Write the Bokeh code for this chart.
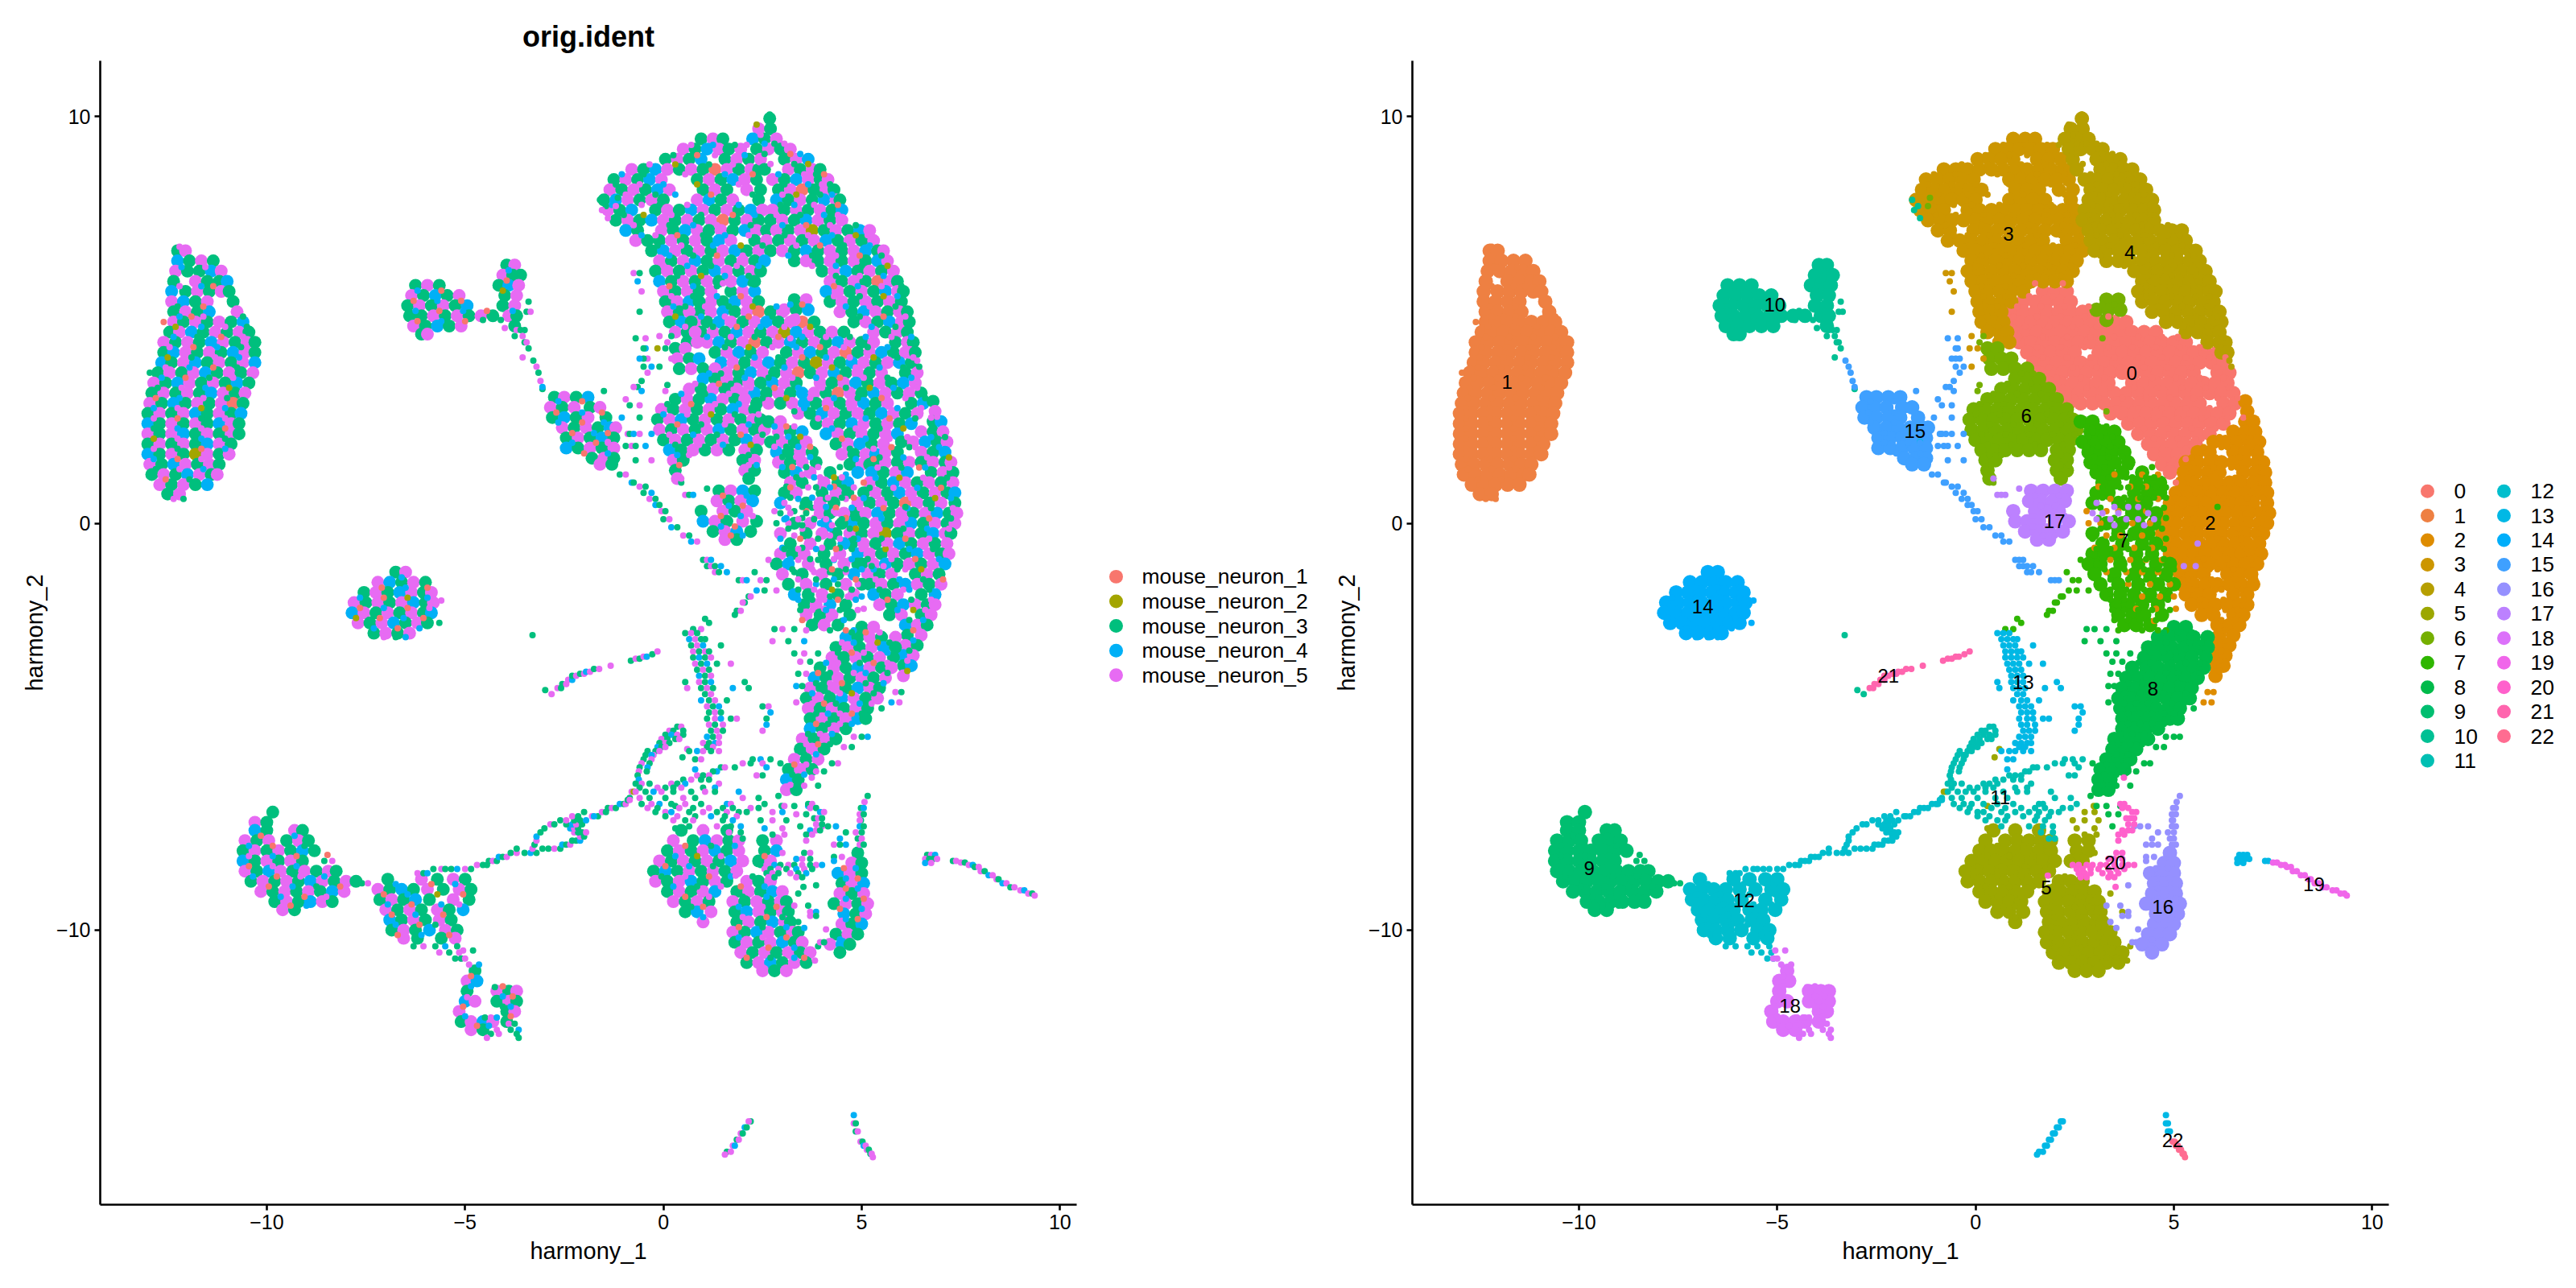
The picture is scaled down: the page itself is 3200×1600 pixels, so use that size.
from bokeh.plotting import figure
from bokeh.models import ColumnDataSource, Range1d, FixedTicker
from bokeh.layouts import row
from bokeh.embed import file_html
from bokeh.resources import INLINE
from bokeh.core.properties import value

# Hand-read sample of the embedding: {y: "x+sample x+sample ..."}; a..e = mouse_neuron_1..5
cluster_0_core = {
5.7:"1.7c 2.0e 2.3d", 5.45:"1.2e 1.5c 1.8d 2.1e 2.4c",
5.2:"0.9c 1.2e 1.5d 1.8c 2.1e 2.4a 2.7c 3.0e",
4.95:"0.8e 1.1c 1.4d 1.7e 2.0c 2.3e 2.6d 2.9c 3.2e 3.5a 3.8c",
4.7:"0.95c 1.25e 1.55c 1.85d 2.15e 2.45c 2.75e 3.05b 3.35d 3.65e 3.95c 4.25e 4.55c",
4.45:"1.1e 1.4d 1.7c 2.0e 2.3a 2.6c 2.9e 3.2d 3.5c 3.8e 4.1c 4.4d 4.7e 5.0c 5.3e",
4.2:"1.3c 1.6e 1.9d 2.2c 2.5e 3.1c 3.4e 3.7d 4.0c 4.3e 4.6a 4.9c 5.2e 5.5d 5.8c 6.1e",
3.95:"1.45d 1.75e 2.05c 2.35e 2.65d 2.95c 3.25e 3.55c 3.85b 4.15e 4.45c 4.75d 5.05e 5.35c 5.65e 5.95d 6.25c",
3.7:"1.6e 1.9c 2.2d 2.5e 2.8c 3.1e 3.4a 3.7c 4.0e 4.3d 4.6c 4.9e 5.2c 5.5e 6.1c 6.4e",
3.45:"1.85c 2.15e 2.45c 2.75d 3.05e 3.35c 3.95e 4.25c 4.55e 4.85d 5.15c 5.45e 5.75c 6.05d 6.35e",
3.2:"2.0e 2.3d 2.6c 2.9e 3.2c 3.5d 3.8e 4.1c 4.4a 4.7e 5.0c 5.3d 5.6e 5.9c 6.2e 6.5c",
2.95:"2.35c 2.65e 2.95c 3.25e 3.55d 3.85c 4.15e 4.45c 4.75e 5.05d 5.35c 5.65e 6.25c 6.55d",
2.7:"3.4e 3.7c 4.0d 4.3e 4.6c 4.9e 5.2c 5.5d 5.8e 6.1c 6.4e",
2.45:"3.85c 4.15e 4.45c 4.75d 5.05e 5.35c 5.65e 5.95c 6.25d",
2.2:"4.1d 4.4e 4.7c 5.0e 5.3c 5.6e 5.9d",
1.95:"4.35c 4.65e 4.95d 5.25c 5.55e",
1.7:"4.5e 4.8c 5.1e 5.35d", 1.45:"4.7c 5.0e 5.2c", 1.25:"4.9d",
}
cluster_0_fine = {5.9:"1.5e 2.2c", 1.0:"5.05a", 2.6:"6.75e",
5.58:"1.35d 1.95a", 5.33:"1.05e 1.65c 2.25b 2.85d", 5.08:"0.95d 1.55e 2.15a 2.75c 3.35e", 4.83:"1.25c 1.85a 2.45d 3.05e 3.7b",
4.58:"1.1d 1.7e 2.3c 2.9a 3.5d 4.1e 4.7c 5.1d", 4.33:"1.55c 2.15b 2.75e 3.35d 3.95a 4.55e 5.15c 5.65d",
4.08:"1.7e 2.3d 2.9c 3.5a 4.1d 4.7e 5.3b 5.9c 6.3e", 3.83:"1.85a 2.45e 3.05d 3.65c 4.25b 4.85e 5.45d 6.05c",
3.58:"2.05d 2.65c 3.25e 3.85d 4.45a 5.05e 5.65c 6.25d", 3.33:"2.2e 2.8a 3.4d 4.0e 4.6c 5.2b 5.8d 6.4e",
3.08:"2.5c 3.1b 3.7e 4.3d 4.9c 5.5a 6.1e 6.6c", 2.83:"3.55d 4.1a 4.7e 5.3c 5.9d 6.5e", 2.58:"3.9e 4.5c 5.1d 5.7a 6.35c",
2.33:"4.25d 4.85e 5.45c 6.05b", 2.08:"4.5a 5.1d 5.7e", 1.83:"4.7c 5.3e", 1.58:"4.85d 5.3a",
}
cluster_1_core = {
6.7:"-12.25c -12.05e", 6.45:"-12.25d -11.95c -11.65e -11.35c",
6.2:"-12.3e -12.0c -11.7c -11.4d -11.15e",
5.95:"-12.35c -11.8e -11.5c -11.2c -11.0d",
5.7:"-12.4d -12.05c -11.75e -11.45c -11.15e -10.95c",
5.45:"-12.4e -12.1d -11.8c -11.5e -10.85c",
5.2:"-12.35c -12.05e -11.75c -11.45d -10.75e",
4.95:"-12.35e -12.1c -11.8e -11.5c -11.2e -10.9c -10.6d",
4.7:"-12.45c -12.2e -11.9d -11.6c -11.3e -11.0c -10.7e -10.45c",
4.45:"-12.6e -12.3c -12.0e -11.7c -11.4d -11.1e -10.8c -10.5e -10.3c",
4.2:"-12.6c -12.35d -12.05e -11.75c -11.45e -11.15c -10.85d -10.55e -10.3c",
3.95:"-12.65d -12.4c -12.1e -11.8d -11.5c -11.2e -10.9c -10.6e -10.3d",
3.7:"-12.75c -12.45e -12.15c -11.85e -11.55d -11.25c -10.95e -10.65c -10.35e",
3.45:"-12.85e -12.55c -12.25d -11.95e -11.65c -11.35e -11.05c -10.75d -10.45c",
3.2:"-12.9c -12.6e -12.3c -12.0e -11.7c -11.4d -11.1e -10.8c -10.55e",
2.95:"-12.95e -12.65c -12.35d -12.05c -11.75e -11.45c -11.15e -10.85a -10.6c",
2.7:"-13.0c -12.7e -12.4c -12.1e -11.8d -11.5c -11.2e -10.9c -10.65d",
2.45:"-13.0d -12.7c -12.4e -12.1c -11.8e -11.5c -11.2d -10.9e -10.7c",
2.2:"-13.0e -12.7c -12.4e -12.1d -11.8c -11.5e -11.2c -10.9e -10.7c",
1.95:"-13.0c -12.7e -12.4c -12.1e -11.8c -11.5d -11.2e -10.9c",
1.7:"-13.0d -12.7c -12.4e -12.1c -11.8b -11.5e -11.2c -10.95e",
1.45:"-12.95e -12.65c -12.35d -12.05e -11.75c -11.45e -11.2c",
1.2:"-12.9c -12.6e -12.3c -12.0d -11.7e -11.4c -11.25e",
0.95:"-12.7e -12.4c -12.1e -11.8c -11.5d",
0.72:"-12.5c -12.2e",
}
cluster_1_fine = {4.95:"-12.6a", 3.7:"-12.95c", 6.8:"-12.2e", 0.6:"-12.35e -12.1c",
6.3:"-12.15d -11.55e", 5.83:"-12.2e -11.65d -11.35a", 5.33:"-12.25c -11.6a", 5.08:"-12.2d -11.9a -11.6e -10.6c",
4.83:"-12.3b -11.65d -11.05e -10.5c", 4.58:"-12.35d -11.75c -11.15a -10.6e", 4.33:"-12.45e -11.85a -11.25d -10.65c",
4.08:"-12.5b -11.9c -11.3e -10.7d", 3.83:"-12.55e -11.95d -11.35a -10.75c", 3.58:"-12.65d -12.05a -11.45c -10.85e",
3.33:"-12.75c -12.15e -11.55d -10.95b", 3.08:"-12.8a -12.2d -11.6e -11.0c", 2.83:"-12.85d -12.25e -11.65b -11.05d",
2.58:"-12.85e -12.25a -11.65c -11.05e", 2.33:"-12.85c -12.25d -11.65e -11.05a", 2.08:"-12.85b -12.25e -11.65d -11.05c",
1.83:"-12.85e -12.25c -11.65a -11.05d", 1.58:"-12.85d -12.25a -11.65e", 1.33:"-12.8c -12.2e -11.6d", 1.08:"-12.55a -11.95c",
}
cluster_2_core = {
3.0:"6.8c", 2.75:"6.85e", 2.5:"6.8c 7.0d", 2.25:"6.5e 6.8c 7.05e",
2.0:"6.0c 6.3e 6.6d 6.9c 7.15e",
1.75:"5.6e 5.9c 6.5e 6.8c 7.1d",
1.5:"5.3c 5.6e 5.9c 6.2e 6.5c 6.8e 7.1c 7.25e",
1.25:"5.25d 5.55c 5.85e 6.15d 6.75c 7.05e 7.3c",
1.0:"5.2e 5.5c 5.8d 6.1e 6.4c 6.7e 7.0c 7.3e",
0.75:"5.05c 5.35e 5.65c 5.95d 6.25e 6.55c 6.85e 7.15c 7.35d",
0.5:"4.9e 5.2c 5.5e 5.8c 6.1a 6.4e 6.7c 7.0e 7.35c",
0.25:"4.8c 5.1e 5.4d 5.7c 6.0e 6.3c 6.6e 6.9d 7.2c 7.4e",
0.0:"4.75d 5.05c 5.35e 5.65c 5.95e 6.25d 6.55c 6.85e 7.15c 7.35e",
-0.25:"4.7e 5.0c 5.3e 5.6b 5.9c 6.2e 6.5c 6.8d 7.1e 7.25c",
-0.5:"4.75c 5.05e 5.35c 5.65e 5.95d 6.25c 6.55e 6.85c 7.15e",
-0.75:"4.9d 5.2e 5.5c 5.8e 6.1c 6.4d 6.7e 7.0c 7.2e",
-1.0:"5.0c 5.3e 5.6d 5.9c 6.2e 6.5c 6.8e 7.1d",
-1.25:"5.15e 5.45c 5.75e 6.35c 6.65e 6.95c",
-1.5:"5.2c 5.5e 5.8c 6.1d 6.4e 6.7c 7.0e",
-1.75:"5.3d 5.6c 5.9e 6.5c 6.85d",
-2.0:"5.45e 5.75c 6.05d 6.35e 6.65c 6.85e",
-2.25:"5.7c 6.0e 6.5c 6.75e", -2.5:"6.1d 6.4e 6.65c", -2.75:"6.15c 6.5e",
-3.0:"6.1e 6.4c", -3.25:"6.05d 6.3e", -3.5:"6.05c 6.25d", -3.75:"6.05e",
}
cluster_2_fine = {
1.2:"3.5e 4.2c 4.6d", 0.9:"3.1c 3.9e 4.3a", 0.6:"3.4d 4.1c 4.6e", 0.3:"2.8e 3.3c 3.6a 4.3e",
0.0:"2.85c 3.15e 3.95d 4.4c", -0.3:"3.3e 3.65c 4.2e", -0.6:"3.0d 3.5c 4.0e 4.45c",
-0.9:"3.4e 3.9c 4.3d 4.7e", -1.2:"3.3c 3.8e 4.2c 4.6e", -1.5:"3.85d 4.4c 4.9e",
-1.8:"4.2c 4.65e 5.0d", -2.1:"4.05e 4.55c 5.05e", -2.4:"4.5c", -4.15:"5.85e 6.0c", -4.4:"5.75d 5.95e",
2.62:"6.9e", 2.12:"6.15e 6.75d 7.1c", 1.87:"5.75a 6.2c 6.35e 6.95d", 1.62:"5.45c 6.05d 6.65e 7.2b", 1.37:"5.4e 6.0c 6.45a 6.6d 7.2e",
1.12:"5.35d 5.95b 6.55e 7.15c", 0.87:"5.2c 5.8e 6.4d 7.0a", 0.62:"5.05d 5.65c 6.25e 6.85b 7.25d", 0.37:"4.95e 5.55a 6.15d 6.75c 7.3e",
0.12:"4.9c 5.5d 6.1e 6.7a 7.25c", -0.13:"4.85b 5.45e 6.05c 6.65d 7.2e", -0.38:"4.9d 5.5c 6.1a 6.7e", -0.63:"5.0e 5.6b 6.2d 6.8c",
-0.88:"5.15c 5.75e 6.35a 6.95d", -1.13:"5.3d 5.9c 6.1e 6.5b", -1.38:"5.35e 5.95d 6.55c 7.05a", -1.63:"5.45c 6.05e 6.2d 6.7c",
-1.88:"5.65a 6.25c 6.75e", -2.13:"5.9d 6.3b 6.6e", -2.38:"6.2c 6.55d", -2.63:"6.3a", -2.88:"6.3d", -3.13:"6.2c", -3.38:"6.15e", -3.63:"6.15b",
}
cluster_3_core = {
9.45:"0.95c 1.25e 1.5c", 9.2:"0.5e 0.8c 1.1d 1.4e 1.65c 1.95e",
8.95:"0.05c 0.35e 0.65c 0.95d 1.55c 1.85e 2.15c",
8.7:"-0.8e -0.5c -0.2d 0.1e 0.4c 0.7e 1.0c 1.3a 1.6e 1.9c 2.2e 2.4c",
8.45:"-1.25c -0.95e -0.65c -0.35d -0.05e 0.85c 1.15e 1.45c 1.75d 2.05e 2.35c",
8.2:"-1.35e -1.05c -0.75e -0.45c -0.15d 0.15e 1.0c 1.3e 1.6c 2.1e 2.45c",
7.95:"-1.5c -1.2d -0.9e -0.6c -0.3e 0.0c 0.85e 1.15d 1.45c 1.75e 2.4c",
7.7:"-1.4e -1.1c -0.8d -0.2c 0.1e 0.4c 0.7d 1.0e 1.3c 1.6e 1.9c 2.2d 2.5e",
7.45:"-1.2c -0.9e -0.6c -0.3d 0.0e 0.3c 0.6e 0.9c 1.2e 1.5a 1.8c 2.1e 2.4c",
7.2:"-0.95d -0.65c -0.05e 0.25c 0.55d 0.85e 1.15c 1.45e 1.75c 2.05d 2.35e 2.6c",
6.95:"-0.7e -0.4c -0.1c 0.2e 0.5c 0.8e 1.1c 1.4d 1.7e 2.3c 2.6e",
6.7:"-0.3c 0.0d 0.3e 0.6c 0.9e 1.2c 1.5e 1.8d 2.1c 2.4e 2.7c",
6.45:"-0.1e 0.2c 0.5e 0.8d 1.1c 1.4e 1.7c 2.0e 2.3c 2.55d",
6.2:"-0.2c 0.1e 0.4c 0.7e 1.0c 1.3d 1.6e 1.9c 2.2e 2.45c",
5.95:"-0.1d 0.2c 0.5e 0.8c 1.1e 1.4c 1.7e 2.0d 2.3c",
5.7:"0.0e 0.3c 0.6e 0.9c 1.2e", 5.45:"0.05c 0.35e 0.65d 0.9c",
5.2:"0.1e 0.4c 0.65e", 4.95:"0.15c 0.45d 0.7c", 4.7:"0.3e 0.6c 0.8e", 4.45:"0.6c 0.85e",
}
cluster_3_fine = {
6.15:"-0.75e -0.6c", 5.95:"-0.65d", 5.7:"-0.55e", 5.2:"-0.6c", 4.6:"-0.1e", 4.3:"-0.15b 0.05c", 4.05:"0.2e", 3.85:"-0.1c",
9.3:"0.7e 1.25d 1.8c", 9.05:"0.25c 0.85a 1.3e 2.05d", 8.82:"-0.35e 0.3b 1.15c 1.75e", 8.58:"-1.05d -0.5c 0.55e 1.55d 2.25a",
8.33:"-1.2c -0.6e 0.0d 0.85b 1.9e", 8.08:"-0.95e -0.2c 0.3d 1.2a 2.25c", 7.83:"-1.3d -0.55e -0.1c 0.6e 1.9d",
7.58:"-1.0c -0.5b 0.2e 0.95c 1.75a 2.3d", 7.33:"-0.75e 0.15c 0.75d 1.35e 2.2c", 7.08:"-0.55d -0.2e 0.35a 1.0c 1.55d 2.15e",
6.83:"-0.15c 0.45e 1.25d 1.95b 2.5c", 6.58:"0.15d 0.75c 1.35a 2.0e", 6.33:"0.0e 0.6d 1.2c 1.85e 2.4d", 6.08:"0.35c 0.95b 1.55d 2.15c",
5.83:"0.15a 0.75d 1.35c", 5.58:"0.2e 0.75c", 5.33:"0.25d 0.55c", 5.08:"0.3b", 4.83:"0.55e",
}
cluster_4_core = {
9.95:"2.68c", 9.7:"2.4e 2.7c", 9.45:"2.25d 2.55c 2.85e", 9.2:"2.35c 2.65e 2.95c 3.2e",
8.95:"2.45e 3.05c 3.35e 3.65d", 8.7:"2.55c 3.15e 3.45c 3.75e 3.95c",
8.45:"2.75e 3.05c 3.35d 3.65e 3.95c 4.15e", 8.2:"2.9c 3.2e 3.5a 3.8c 4.1e 4.3c",
7.95:"2.85d 3.15c 3.45e 3.75c 4.05d 4.35e 4.45c", 7.7:"2.75e 3.05c 3.35e 3.65c 3.95e 4.25c 4.5d",
7.45:"2.7c 3.0e 3.3c 3.6d 3.9e 4.2c 4.5e", 7.2:"2.85e 3.15c 3.45e 3.75b 4.05c 4.35e 4.65c 4.95d 5.2e",
6.95:"2.9c 3.2e 3.5c 3.8e 4.1d 4.4c 4.7e 5.0c 5.3e",
6.7:"3.0e 3.3c 3.6d 3.9c 4.2e 4.5c 4.8e 5.1d 5.4c 5.55e",
6.45:"3.3c 3.6e 3.9c 4.2e 4.5c 4.8e 5.1c 5.4d 5.65e",
6.2:"4.0c 4.3e 4.6d 4.9c 5.2e 5.5c 5.8e",
5.95:"4.2e 4.5c 4.8e 5.1c 5.4a 5.7e 5.9c",
5.7:"4.1d 4.4e 4.7c 5.0e 5.3c 5.6d 5.9e 6.05c",
5.45:"4.2c 4.5e 4.8c 5.1e 5.4c 5.7e 6.0c",
5.2:"4.45e 4.75c 5.05d 5.35e 5.65c 5.95e 6.15c",
4.95:"4.8c 5.1e 5.4c 5.7d 6.0e 6.2c",
4.7:"5.3e 5.6c 5.9e 6.15c", 4.45:"5.85c 6.15e 6.3c", 4.2:"6.2e 6.35c",
}
cluster_4_fine = {10.05:"2.68c", 9.8:"2.35b", 9.3:"2.1e", 4.0:"6.4e", 3.85:"6.45c",
9.55:"2.45e", 9.33:"2.55d 2.8c 3.05e", 9.08:"2.55c 3.2a 3.45d", 8.83:"2.7e 3.3c 3.65b", 8.58:"2.9d 3.55e 3.85c 4.05a",
8.33:"3.05c 3.65d 4.0e 4.2c", 8.08:"3.0e 3.35b 3.95c 4.25d", 7.83:"2.95c 3.3d 3.8e 4.4a", 7.58:"2.85e 3.45c 4.05d 4.4e",
7.33:"3.0d 3.6a 4.2e 4.85c", 7.08:"3.05c 3.65e 4.25d 4.85b 5.15e", 6.83:"3.35e 3.95a 4.55c 5.2d", 6.58:"3.15d 3.75c 4.35e 4.95a 5.5c",
6.33:"3.75e 4.35d 5.0c 5.65b", 6.08:"4.35c 4.95e 5.55d", 5.83:"4.3a 4.9d 5.5e 6.0c", 5.58:"4.3e 4.95c 5.55b 5.9d",
5.33:"4.6d 5.2e 5.85c", 5.08:"4.95c 5.55a 6.1e", 4.83:"5.25d 5.85c", 4.58:"5.75e 6.25d",
}
cluster_5_core = {
-7.55:"0.45c 1.0e 1.6c", -7.8:"0.25e 0.75c 1.05d 1.35e 1.65c 1.9e 2.5c 2.85e",
-8.05:"0.1c 0.4e 0.7c 1.0e 1.3d 1.6c 1.9e 2.55c 2.85d",
-8.3:"-0.1e 0.2c 0.5e 0.8c 1.1e 1.4c 1.7d 2.0e 2.4c 2.7e",
-8.55:"-0.25c 0.05d 0.35c 0.65e 0.95c 1.25e 1.55c 1.85e",
-8.8:"-0.2e 0.1c 0.4e 0.7d 1.0c 1.3e 1.6c 2.1e 2.4c 2.7e",
-9.05:"0.1c 0.4e 0.7c 1.0e 1.3d 1.85c 2.15e 2.45c 2.75d 3.0e",
-9.3:"0.25e 0.55c 0.85e 1.15c 1.75e 2.05c 2.35e 2.65c 2.95e 3.1c",
-9.55:"0.55c 0.85d 1.2e 1.8c 2.1d 2.4e 2.7c 3.0e 3.15c",
-9.8:"1.0e 1.85c 2.15e 2.45c 2.75d 3.05e 3.2c",
-10.05:"1.75e 2.05c 2.35d 2.65e 2.95c 3.25e 3.4c",
-10.3:"1.8c 2.1e 2.4c 2.7e 3.0d 3.3c 3.5e",
-10.55:"1.95e 2.25c 2.55e 2.85c 3.15e 3.45c 3.7e",
-10.8:"2.1c 2.4e 2.7d 3.0c 3.3e 3.6c", -11.0:"2.5e 2.8c 3.1e",
}
cluster_5_fine = {
-6.95:"2.98c 0.3c", -7.1:"2.75e 3.0d", -7.3:"2.45c 2.75e 3.1c", -7.5:"2.55d 3.0e 0.3c",
-7.65:"2.75c 3.05e", -5.55:"0.6e", -5.75:"0.48c", -6.6:"-0.8e -0.75b", -8.1:"3.0e",
-9.1:"3.4c", -9.55:"3.7e", -10.4:"3.9c", -10.75:"3.82e",
-7.93:"0.55a 1.2c 1.8d", -8.18:"0.3d 0.85b 1.45e 2.55a", -8.43:"0.05a 0.65d 1.25c 1.9e 2.55d", -8.68:"-0.05c 0.55e 1.15a 1.7d 2.25c",
-8.93:"0.25d 0.85c 1.45e 1.95a 2.55d", -9.18:"0.55a 1.15e 2.0c 2.6d", -9.43:"0.7c 1.0a 1.9d 2.5e 2.85a", -9.68:"1.0d 2.0e 2.6a 3.0c",
-9.93:"1.9a 2.5c 3.1d", -10.18:"1.9d 2.5e 3.1a", -10.43:"2.0e 2.65a 3.3d", -10.68:"2.1a 2.7c 3.3d 3.55a",
}
cluster_6_core = {
5.5:"3.3c 3.6e", 5.25:"3.05e 3.35c 3.65d", 5.0:"3.3e",
4.3:"0.3c 0.55e", 4.05:"0.35e 0.65c 0.9d", 3.8:"0.4c 0.7e 1.0c 1.3e",
3.55:"1.0d 1.3c 1.6e", 3.3:"0.65e 0.95c 1.25e 1.55c 1.85e",
3.05:"0.3c 0.6e 0.9c 1.2d 1.5e 1.8c 2.05e",
2.8:"-0.05e 0.25c 0.55e 0.85c 1.15e 1.45c 1.75d 2.05e 2.3c",
2.55:"-0.15c 0.15e 0.45d 0.75c 1.05e 1.35c 1.65e 1.95c 2.25e 2.45c",
2.3:"-0.1e 0.2c 0.5e 0.8c 1.1e 1.4d 1.7c 2.0e 2.3c 2.55e",
2.05:"0.0c 0.3e 0.6c 0.9e 1.2c 1.5e 1.8c 2.1d 2.4e",
1.8:"0.15d 0.45c 0.75e 1.05c 1.35e 1.65c 2.05e 2.35c",
1.55:"0.25e 0.5c 2.0c 2.3e", 1.3:"0.3c 2.05e 2.3c", 1.1:"0.35e 2.15c",
}
cluster_6_fine = {8.0:"-1.15c", 7.8:"-1.2e", 4.6:"0.2c", 4.45:"0.1e", 3.4:"0.1c", 3.25:"0.05e", 1.0:"0.45c", 2.75:"3.3c", 4.55:"3.2e",
3.68:"1.15d 1.45c", 3.43:"0.8e 1.4a 1.7c", 3.18:"0.45d 1.05c 1.65e", 2.93:"0.1c 0.7a 1.3e 1.9d", 2.68:"0.0d 0.6e 1.2b 1.8c 2.4e",
2.43:"0.35a 0.95c 1.55e 2.15d", 2.18:"0.15e 0.75d 1.35c 1.95a 2.5c", 1.93:"0.3c 0.9e 1.5d 2.2b", 1.68:"0.35d 0.65e 2.15c", 1.43:"0.4a 2.15e 2.35d", 5.38:"3.2d 3.5a",
}
cluster_7_core = {
2.5:"2.65c 2.95e", 2.25:"2.9e 3.2c 3.5d", 2.0:"2.7c 3.0e 3.3c 3.6e",
1.75:"2.85d 3.15c 3.45e 3.75c", 1.5:"2.9e 3.2c 3.5e 3.85c", 1.25:"3.05c 3.35d 3.7e 4.2c",
1.0:"3.2e 3.5c 4.05e 4.4c 4.65d", 0.75:"3.05c 3.35e 4.0c 4.35e 4.65c",
0.5:"2.95d 3.6c 3.95e 4.3c", 0.25:"3.95e 4.2c 4.55e", 0.0:"3.3c 3.7e 4.1d 4.5c",
-0.25:"2.95e 3.6c 4.0e 4.35c", -0.5:"3.2c 3.7e 4.2c 4.55d", -0.75:"2.95e 3.25c 3.55e 4.05c 4.45e",
-1.0:"2.85c 3.15d 3.65e 4.1c 4.55e 4.9c", -1.25:"3.0e 3.5c 4.0e 4.4c 4.8d",
-1.5:"3.15c 3.6e 4.1c 4.6e 5.0c", -1.75:"3.3d 3.65c 4.0e 4.4c 4.8e",
-2.0:"3.55c 3.85e 4.2d 4.6c", -2.25:"3.6e 3.95c 4.25e 4.7c", -2.5:"3.75c 4.05e 4.4c",
}
cluster_7_fine = {
-0.9:"2.65e", -1.2:"2.3c", -1.4:"2.45e 2.6c", -1.65:"2.35d 2.55c 2.85e", -1.8:"2.15c 2.2e", -1.95:"2.05c 2.0e",
-2.15:"1.85c 1.95e", -2.25:"1.8c", -2.6:"0.75c 0.95e", -2.45:"1.15c", -2.35:"1.05c", 0.4:"6.1c",
2.38:"2.8d 3.1a 3.3e", 2.13:"2.85c 3.15d 3.45b", 1.88:"2.8e 3.1c 3.4d 3.7a", 1.63:"3.0c 3.35e 3.7d", 1.38:"3.0d 3.25a 3.6c 3.9e 4.45c",
1.13:"3.35c 3.8d 3.95e 4.3b 4.5e", 0.88:"3.2a 3.65e 3.85c 4.2d 4.55c 4.8e", 0.63:"3.2c 3.75d 4.15e 4.5c 4.8a", 0.38:"3.15e 3.75c 4.35a 4.75d",
0.13:"3.1d 3.5c 3.8e 4.6a 4.8c", -0.13:"3.15c 3.5e 4.2d 4.7c", -0.38:"2.95d 3.45a 3.9c 4.45e 4.8c", -0.63:"3.05c 3.4e 3.85d 4.35a 4.75c",
-0.88:"3.2d 3.7c 4.3e 4.75d", -1.13:"3.25c 3.75e 4.25a 4.6c 5.0d", -1.38:"3.4e 3.85c 4.3d 4.85a", -1.63:"3.4c 3.8e 4.25b 4.75c",
-1.88:"3.4d 3.75c 4.05e 4.4a 4.85d", -2.13:"3.45c 3.75e 4.1d 4.45c 4.9e", -2.38:"3.5a 3.85c 4.15e 4.55d", -2.63:"3.6e 4.2c 4.6a 4.8d",
}
cluster_8_core = {
-2.55:"5.0c 5.3e", -2.8:"4.6d 4.9c 5.2e 5.5c 5.85e", -3.05:"4.35c 4.65e 4.95c 5.25e 5.55d 5.85c",
-3.3:"4.25e 4.55c 4.85e 5.15c 5.45e 5.8c", -3.55:"3.95c 4.3e 4.6c 4.9d 5.2e 5.5c 5.75e",
-3.8:"3.8d 4.1c 4.4e 4.7c 5.0e 5.3c 5.6e", -4.05:"3.7e 4.0c 4.3e 4.6c 4.9d 5.2e 5.45c",
-4.3:"3.6c 3.9e 4.2c 4.5d 4.8e 5.1c 5.4e", -4.55:"3.65e 3.95c 4.25e 4.55c 4.85e 5.15c",
-4.8:"3.7c 4.0e 4.3c 4.6e 4.9d 5.1c", -5.05:"3.7d 4.0c 4.3e 4.6c",
-5.3:"3.5e 3.8c 4.1e 4.35c", -5.55:"3.45c 3.75e 4.05c", -5.8:"3.3e 3.6c 3.9e",
-6.05:"3.15c 3.45e 3.75c", -6.3:"3.1d 3.4c", -6.55:"3.1e 3.35c",
}
cluster_8_fine = {
-2.6:"2.8c 3.0e 3.3c", -2.9:"2.75e 3.15c 3.55d", -3.2:"3.3c 3.55e 3.9c", -3.4:"3.45e 3.7c",
-3.7:"3.4c 3.6e", -4.0:"3.35d 3.5c", -4.4:"3.35e", -5.9:"2.95c 4.4e 4.25c", -6.1:"4.05c 3.85e", -6.45:"3.55e 3.9c", -6.7:"2.9c",
-6.95:"3.05e 3.3c 3.65d", -7.15:"3.6c 3.35e", -7.45:"3.45c", -5.5:"4.55e 4.75c", -5.25:"4.8e 5.0c 5.15d", -4.55:"5.5c",
-2.68:"4.75c 5.1a 5.45e", -2.93:"4.5e 4.8d 5.4b 5.7c", -3.18:"4.4c 4.75a 5.05e 5.65d", -3.43:"4.1d 4.4e 4.95c 5.3a 5.65e",
-3.68:"3.9a 4.2c 4.8e 5.1d 5.65c", -3.93:"3.85c 4.2e 4.5a 5.1c 5.55d", -4.18:"3.75d 4.15c 4.45e 4.75b 5.3c", -4.43:"3.75e 4.05a 4.35c 4.95d 5.25e",
-4.68:"3.85c 4.15d 4.45e 4.75a 5.0c", -4.93:"3.85a 4.15c 4.45e 4.75d", -5.18:"3.65c 3.95e 4.25d", -5.43:"3.6e 3.9a 4.2c",
-5.68:"3.55c 3.85d", -5.93:"3.3a 3.6e", -6.18:"3.25c 3.55d", -6.43:"3.2e",
}
cluster_9_core = {
-7.1:"-9.85c", -7.35:"-10.3e -10.0c", -7.55:"-10.3d -10.0c -9.3e -9.1c", -7.8:"-10.55e -10.25c -9.95e -9.5c -9.2e -8.95c",
-8.05:"-10.6c -10.3e -10.0c -9.7e -9.4c -9.1d -8.8c", -8.3:"-10.6d -10.3c -10.0e -9.7c -9.4e -9.1c",
-8.55:"-10.55e -10.25c -9.95d -9.65e -9.35c -9.05e -8.75c -8.45e -8.25c",
-8.8:"-10.4c -10.1e -9.8c -9.5e -9.2c -8.9d -8.6e -8.3c -8.0e -7.75c",
-9.05:"-10.15e -9.85c -9.55e -9.25c -8.95e -8.65c -8.35d -8.05e",
-9.3:"-9.8c -9.5e -9.2c -8.9d -8.6e -8.35c", -9.5:"-9.6e -9.3c",
}
cluster_9_fine = {-8.3:"-8.55c -8.35e", -8.15:"-8.47a", -8.85:"-7.6c -7.45e",
-7.68:"-10.15a -9.3d", -7.93:"-10.45d -9.85a -9.05c", -8.18:"-10.45e -9.85d -9.25a", -8.43:"-10.45a -9.85e -9.25d", -8.68:"-10.35d -9.75a -9.15e -8.55d",
-8.93:"-9.95a -9.35d -8.75c -8.15a", -9.18:"-9.65d -9.05a -8.5e", -9.4:"-9.4a -9.0d",
}
cluster_10_core = {
6.35:"-3.95c -3.75e", 6.1:"-4.05e -3.8c -3.6c", 5.85:"-6.25c -5.95e -5.65c -4.15c -3.9d -3.65e",
5.6:"-6.35e -6.05c -5.75d -5.45c -5.15e -4.0c -3.7e", 5.35:"-6.45c -6.15e -5.85c -5.55e -5.25c -4.95d -4.05c -3.75e",
5.1:"-6.4c -6.1c -5.8e -5.5c -5.2e -4.9c -4.6e -4.3c -3.9e -3.7c",
4.85:"-6.3e -6.0c -5.7d -5.4c -5.1e -3.75c", 4.65:"-6.1c -5.95e",
}
cluster_10_fine = {
4.75:"-3.7e -3.6c -3.5c", 4.6:"-3.75c -3.55e", 4.45:"-3.5c -3.45e", 4.3:"-3.4c", 4.08:"-3.55e",
5.0:"-4.55c -4.1c", 4.8:"-4.0e", 5.2:"-3.45c -3.35e", 5.45:"-3.4c", 7.8:"-1.45c", 7.5:"-1.4e", 7.95:"-1.6c", 7.7:"-1.55e",
-2.75:"-3.3c", -4.1:"-2.98c", -4.2:"-2.82e", 3.3:"-3.05c",
5.72:"-6.2d -5.6a -4.05b", 5.47:"-6.3a -5.7d -5.1a", 5.22:"-6.25d -5.65a -5.05d -4.45a -3.8d", 4.97:"-6.2a -5.6d -5.0a", 6.22:"-3.9d", 5.97:"-3.95a",
}
cluster_11_fine = {
-5.0:"0.35c 0.45e", -5.1:"0.15e 0.25c 0.5c", -5.2:"0.05c 0.2d 0.35e 0.5c", -5.3:"-0.05e 0.1c 0.3c 0.4e",
-5.4:"-0.1c 0.05e 0.15c", -5.5:"-0.15d -0.05c 0.05e", -5.6:"-0.2c -0.1e -0.4c", -5.7:"-0.25e -0.45c -0.3d",
-5.8:"-0.5c -0.3e 2.7c 2.45d 2.25c", -5.9:"-0.55e -0.35c 2.0e 2.2c 2.5e", -6.0:"-0.6c -0.4d 1.45c 1.55e 1.8c 2.6d",
-6.1:"-0.62e -0.42c 1.35d 1.25c", -6.2:"-0.65c 0.85e 1.0c 1.15e 2.5c 2.35e", -6.3:"-0.62d 0.5c 0.7e 0.95c 1.15c",
-6.4:"-0.55e -0.7c -0.35c 0.2e 0.35c 0.55d 1.4e", -6.5:"-0.6c -0.15e 0.05c 0.25c 0.45e 1.0c 1.3d",
-6.6:"-0.7e -0.45c -0.25d -0.05e 0.25c 0.7c 1.05e 1.3c 1.9d", -6.75:"-0.85c -0.6e -0.35c 0.05c 0.5e 0.8c 2.0e 2.4c",
-6.9:"-0.55c -0.3e -0.1d 0.2c 0.55e 0.95c 1.6d 1.7e 2.55c", -7.0:"-0.4e -0.15c 0.4e 0.75c 1.15e 1.5c 1.75c 2.2e 2.4c",
-7.1:"-0.2c 0.05e 0.2d 0.65c 1.0e 1.35c 1.6e 1.9c 2.1c", -7.2:"0.05c 0.35e 0.8c 1.2d 1.55c 1.85e",
-7.3:"0.25e 0.55c 0.75e 1.5c 1.75d", -7.45:"0.65c 1.35e 1.7c 1.95d", -7.6:"1.65e 1.95c", -7.75:"1.85e 2.0c",
}
cluster_12_core = {
-8.75:"-6.95c -6.1e -5.7c -5.3e -5.0c", -9.0:"-7.2e -6.9c -6.6d -6.3c -5.95e -5.55c -5.15e -4.85c",
-9.25:"-7.15c -6.85e -6.55c -6.25d -5.9c -5.3e -4.9c", -9.5:"-7.0e -6.7c -6.4e -6.1c -5.7e -5.4c -5.05d",
-9.75:"-6.9d -6.6c -6.3e -6.0c -5.65e -5.35c", -10.0:"-6.85c -6.55e -6.25c -5.9d -5.5e -5.2c",
-10.2:"-6.55e -6.2c -5.6c -5.25e",
}
cluster_12_fine = {
-10.4:"-6.3c -6.05e -5.75c -5.5d -5.2c", -10.55:"-5.65e -5.4c -5.15e", -10.7:"-5.25c -5.1e",
-8.6:"-6.2e -6.05c -5.95d", -8.5:"-5.8c -5.6e -5.5c -5.35c -5.2d -5.0e -4.85c", -8.4:"-4.7e -4.55c -4.45c",
-8.3:"-4.4c -4.3e -4.2c", -8.2:"-4.15d -4.05c -3.95e", -8.1:"-3.85c -3.7e -3.5c -3.35d -3.2c",
-8.0:"-3.7c -3.3e -3.05c -2.9c -2.75e -2.6c", -7.9:"-2.55d -2.45c -2.35e -3.25c", -7.8:"-3.2e -2.3c -2.2c -2.1d",
-7.7:"-2.1e -2.0c -3.2d", -7.6:"-3.1c -2.25e -2.15c -2.05c -1.95e", -7.5:"-3.0c -2.35d -2.25e -2.15c",
-7.4:"-2.85e -2.75c -2.45c -2.3d -2.2e -2.05c", -7.3:"-2.6c -2.45e -2.25c -2.1c -1.95d",
-7.2:"-2.3e -2.15c -1.8e -1.65c -1.75d", -7.1:"-2.0c -1.55e -1.45c", -7.0:"-1.4c -1.3e -1.2c", -6.9:"-1.1d -1.0c -0.95e",
-6.8:"-0.9c -0.85e",
-8.87:"-6.75d -5.85a -5.25d", -9.12:"-7.05a -6.45d -5.7b -5.05a", -9.37:"-6.95d -6.35a -5.6d -5.15e", -9.62:"-6.85a -6.25d -5.55a",
-9.87:"-6.75d -6.15a -5.75c", -10.12:"-6.7a -6.1d -5.4a",
}
cluster_13_fine = {
-2.7:"0.55c 0.7e 0.85c", -2.85:"0.65d 0.8e 0.95c 1.05c", -3.0:"0.7c 0.85e 1.0d 1.45c", -3.15:"0.75e 0.9c 1.05e 1.15c",
-3.3:"0.75c 0.9d 1.05c 1.2e", -3.45:"0.8e 0.95c 1.1d 1.35c 1.7e", -3.6:"0.85c 1.0e 1.15c", -3.75:"0.9d 1.05c 1.2e",
-3.9:"0.55c 0.9e 1.05c 1.2d 2.05c", -4.05:"0.6e 0.95c 1.1e 1.25c 1.75d 2.15c", -4.2:"1.05c 1.2e",
-4.35:"0.95d 1.15c 1.3e 1.6c", -4.5:"1.1e 1.25c 1.4d 2.5c 2.65e", -4.65:"1.15c 1.3e 1.45c 2.7d",
-4.8:"1.1c 1.3e 1.45d 1.7c 1.85e 2.6c", -4.95:"1.15e 1.3c 1.5e 2.6d", -5.1:"1.2c 1.35e 1.5c 2.5e",
-5.25:"1.1d 1.25c 1.4e", -5.4:"1.0e 1.15c 1.3d 1.4e", -5.5:"1.1c 1.25e", -5.6:"0.65c 0.85d 1.0e 1.2c 1.4e",
-5.8:"0.8c 0.95e", -6.05:"0.8d", 2.0:"-1.4e", -8.15:"6.65c 6.75e 6.85d", -8.25:"6.6e 6.7c 6.8c 6.9e",
-8.35:"6.6d 6.75e", -8.3:"7.3c 7.38e", -14.7:"2.2c 2.15e", -14.85:"2.05d 2.1c", -15.0:"1.95e 2.0c", -15.15:"1.85c 1.9e",
-15.3:"1.75e 1.8d", -15.45:"1.6c 1.7e", -15.52:"1.55e", -14.55:"4.8d", -14.75:"4.8e 4.85c", -14.95:"4.85c 4.9e",
}
cluster_14_core = {
-1.2:"-6.75c -6.5e", -1.45:"-7.2e -6.9d -6.6c -6.3e -6.0c", -1.7:"-7.55c -7.25e -6.95c -6.65d -6.35e -6.05c -5.85e",
-1.95:"-7.8e -7.5c -7.2e -6.9c -6.6e -6.3d -6.0c -5.8e", -2.2:"-7.85d -7.55e -7.25c -6.95e -6.65c -6.35e -6.05c -5.85d",
-2.45:"-7.7e -7.4c -7.1e -6.8d -6.5c -6.2e -5.95c", -2.7:"-7.3c -7.0e -6.7c -6.4e",
}
cluster_14_fine = {-1.9:"-5.6e", -2.45:"-5.65c", -2.8:"-7.05e -6.75c -6.5d",
-1.33:"-6.6d", -1.58:"-7.1a -6.5d -5.95a", -1.83:"-7.65d -7.05a -6.45b -5.95d", -2.08:"-7.65a -7.05d -6.45a -5.9e", -2.33:"-7.75b -7.15a -6.55d -6.05a", -2.58:"-7.3d -6.7a -6.15d",
}
cluster_15_core = {
3.1:"-2.75c -2.5e -2.2c -1.9d", 2.85:"-2.85e -2.55c -2.25e -1.85c -1.6e", 2.6:"-2.8c -2.5d -2.2c -1.9e -1.45c",
2.35:"-2.55e -2.25c -1.95e -1.65c -1.35d -1.2e", 2.1:"-2.45c -2.15e -1.85c -1.55d -1.25c",
1.85:"-2.45d -2.15c -1.85e -1.55c -1.25e", 1.6:"-1.8c -1.5e -1.25c", 1.45:"-1.6e -1.3c",
}
cluster_15_fine = {
4.0:"-3.28c", 3.85:"-3.2e -0.5c -0.3d", 3.7:"-3.15c -0.4e", 3.5:"-3.1e -0.55c", 3.35:"-3.05d -0.65c -0.75e", 3.25:"-1.5c -0.55d",
4.55:"-0.7c -0.45e", 4.3:"-0.45d -0.5c", 4.05:"-0.4e -0.5c -0.6d", 3.05:"-0.95e", 2.9:"-0.85c -0.6e", 2.6:"-1.05d -0.6c",
2.2:"-0.9e -0.85c -0.75d -0.6e -0.3d", 1.9:"-0.95c -0.8e -0.7c -0.45d", 1.55:"-0.7c -0.3e", 1.2:"-1.1c -0.95e", 1.0:"-0.8d -0.75c",
0.9:"-0.6e -0.45c", 0.75:"-0.5c -0.3d", 0.6:"-0.35e -0.2c", 0.45:"-0.2d -0.1c", 0.3:"-0.05e 0.05c", 0.1:"0.0c 0.15e", -0.1:"0.2d 0.35c",
-0.3:"0.5e 0.65c", -0.45:"0.7d 0.85e", -0.9:"1.0c 1.1e 1.2d", -1.05:"1.1c 1.2e 1.3c 1.45d", -1.2:"1.3e 1.4c 1.6d", -1.4:"1.9c 2.0e 2.1d",
3.0:"-2.65d -2.05a", 2.72:"-2.7a -2.05d -1.55a", 2.48:"-2.65d -2.05a -1.5d", 2.22:"-2.3a -1.75d -1.4a", 1.98:"-2.3d -1.7a -1.4e", 1.72:"-2.0a -1.4d",
}
cluster_16_core = {
-8.1:"4.9c", -8.35:"4.75e 5.0c", -8.6:"4.4d 4.7e 5.0c", -8.85:"4.5c 4.75e 5.05d", -9.1:"4.45e 4.75c 5.05e",
-9.35:"4.3c 4.6e 4.9c 5.15e", -9.6:"4.55d 4.85c 5.1e", -9.85:"4.5e 4.75c 5.0d", -10.1:"4.35c 4.65e 4.9c",
-10.35:"4.2e 4.5d 4.7c", -10.55:"4.45c",
}
cluster_16_fine = {
-6.7:"5.15c", -6.85:"5.07e", -7.0:"4.98c 5.05d", -7.15:"4.95e 5.05c", -7.3:"4.98c 4.95e", -7.45:"4.95d 5.05c 4.0e 4.15c 4.35d",
-7.6:"4.85e 5.0c 4.6c", -7.75:"4.9c 5.0e 4.45d", -7.9:"4.95e 5.05c 4.6d 4.3e 4.45c", -8.2:"4.5e 4.3c",
-8.3:"4.3d", -8.9:"3.85c", -9.4:"3.3e 3.65c", -9.55:"3.85d", -9.65:"3.7e 3.85c", -9.8:"3.4c", -9.95:"3.55d", -10.3:"3.95e 4.05c", -9.98:"4.1e",
-8.48:"4.55a 4.85d", -8.73:"4.6d 4.9a", -8.98:"4.6a 4.9d", -9.23:"4.6d 5.05a", -9.48:"4.45a 5.0d", -9.73:"4.6d 4.9a", -10.23:"4.45d",
}
cluster_17_core = {
0.8:"1.4c 1.7e 2.0d 2.3c", 0.55:"1.35e 1.65c 1.95e 2.25d", 0.3:"0.95c 1.5e 1.8c 2.1e",
0.05:"1.0d 1.3e 1.6c 2.0e 2.35c", -0.2:"1.25c 1.55e 1.85d 2.2c", -0.4:"1.55e 1.85c",
}
cluster_17_fine = {
0.85:"1.1c", 0.7:"0.55e 0.65c 0.75d", 0.5:"3.05e", 0.4:"3.5c 3.85e 4.1d", 0.25:"2.95c 3.2e 3.6c 4.35e",
0.1:"3.05d 3.4e 3.8c 4.1e 4.5c", -0.05:"3.5c 4.25e", 1.1:"0.45e", -0.5:"5.6e", -1.05:"5.25c 5.55e",
0.68:"1.5a 2.1d", 0.43:"1.65d 2.0a", 0.18:"1.45a 1.95d 2.25e", -0.08:"1.45d 1.8a", -0.3:"1.7a 2.0d",
}
cluster_18_core = {
-11.0:"-4.75c", -11.25:"-4.95e -4.7d", -11.5:"-4.95c -4.2e -3.9c -3.7e", -11.75:"-5.0d -4.75e -4.2c -3.9e -3.7c",
-12.0:"-5.15e -3.95c -3.75e", -12.25:"-5.1c -4.85e -4.55d -4.3e -3.95c", -12.45:"-4.85e -4.55c",
}
cluster_18_fine = {
-10.5:"-5.05e -4.8c", -10.7:"-5.1c -5.0e", -10.85:"-4.65d -4.9e", -11.4:"-4.25c", -11.65:"-4.95e",
-12.15:"-4.5c -4.35e -4.2d", -12.3:"-3.9e -3.75c", -12.45:"-4.2e -3.85c -3.65d", -12.55:"-4.35c -4.15e -3.7c", -12.65:"-4.45e -3.65c",
-11.13:"-4.85a", -11.38:"-4.85d -4.05a", -11.63:"-4.05d -3.8a", -11.88:"-5.05a -4.05c -3.85d", -12.12:"-5.0d -3.85a", -12.35:"-4.7a -4.4d",
}
cluster_19_fine = {
-8.34:"7.5e 7.6c", -8.4:"7.7e 7.8d", -8.45:"7.85c 7.95e", -8.55:"8.0e 8.1c", -8.65:"8.2d 8.3e",
-8.75:"8.4e 8.45c", -8.85:"8.55d 8.65e", -8.95:"8.75c 8.85e", -9.02:"9.0e 9.1d", -9.1:"9.2e 9.3c", -9.15:"9.36e",
}
cluster_20_fine = {
-6.25:"3.74e", -6.9:"3.65c 3.75e", -7.0:"3.7e 3.85c", -7.1:"3.95d 4.05e", -7.25:"3.8c 3.9e 4.0c", -7.4:"3.85e 4.0c",
-7.55:"3.7d 3.85e 3.95c", -7.65:"3.6c 3.75e", -7.8:"3.6e", -8.1:"3.55c 3.7e", -8.25:"3.35d 3.5e 3.7c",
-8.4:"2.45c 2.6e 2.8d 2.95c 3.15e 3.3c 3.5e 3.7c 3.85e 4.0d", -8.5:"2.55e 2.7c 2.9e 3.1c 3.35d 3.55e 3.75c",
-8.6:"2.6c 2.75e 2.9c 3.2e 3.4c 3.6d", -8.7:"2.65e 2.8c 3.35e 3.5c", -8.66:"1.82e", -8.94:"3.53c",
}
cluster_21_fine = {
-4.05:"-2.67e -2.58c", -3.95:"-2.55c -2.45e", -3.85:"-2.4e -2.3d", -3.75:"-2.3c -2.2e", -3.7:"-2.1c -2.0e",
-3.65:"-1.95d -1.85e", -3.58:"-1.75c -1.62e", -3.5:"-1.33e", -3.38:"-0.82c", -3.33:"-0.7e -0.6c", -3.28:"-0.5e -0.42d", -3.22:"-0.28c", -3.15:"-0.15e",
}
cluster_22_fine = {-15.2:"4.97e 5.02c", -15.3:"5.05d 5.1e", -15.4:"5.13e 5.18c", -15.5:"5.22c 5.25e", -15.58:"5.28e"}

CORE = {0:cluster_0_core,1:cluster_1_core,2:cluster_2_core,3:cluster_3_core,4:cluster_4_core,5:cluster_5_core,6:cluster_6_core,
        7:cluster_7_core,8:cluster_8_core,9:cluster_9_core,10:cluster_10_core,12:cluster_12_core,14:cluster_14_core,15:cluster_15_core,
        16:cluster_16_core,17:cluster_17_core,18:cluster_18_core}
FINE = {0:cluster_0_fine,1:cluster_1_fine,2:cluster_2_fine,3:cluster_3_fine,4:cluster_4_fine,5:cluster_5_fine,6:cluster_6_fine,
        7:cluster_7_fine,8:cluster_8_fine,9:cluster_9_fine,10:cluster_10_fine,11:cluster_11_fine,12:cluster_12_fine,13:cluster_13_fine,
        14:cluster_14_fine,15:cluster_15_fine,16:cluster_16_fine,17:cluster_17_fine,18:cluster_18_fine,19:cluster_19_fine,
        20:cluster_20_fine,21:cluster_21_fine,22:cluster_22_fine}

sample_names = ["mouse_neuron_1","mouse_neuron_2","mouse_neuron_3","mouse_neuron_4","mouse_neuron_5"]
sample_colors = ["#F8766D","#A3A500","#00BF7D","#00B0F6","#E76BF3"]
cluster_names = [str(i) for i in range(23)]
cluster_colors = ["#F8766D","#EE8042","#DE8C00","#CC9600","#B69F00","#9CA700","#75AF00","#2FB600","#00BA4A","#00BE70",
                  "#00C094","#00BFB3","#00BECD","#00B8E5","#00AEFA","#3FA0FF","#9590FF","#BC81FF","#DC71FA","#F066EA",
                  "#FF61CC","#FF65AE","#FF6C91"]
label_x = [3.94,-11.81,5.92,0.83,3.89,1.78,1.28,3.73,4.47,-9.74,-5.06,0.62,-5.84,1.20,-6.88,-1.53,4.72,1.99,-4.68,8.53,3.52,-2.20,4.97]
label_y = [3.69,3.48,0.01,7.12,6.67,-8.95,2.64,-0.43,-4.07,-8.47,5.38,-6.73,-9.27,-3.90,-2.05,2.27,-9.43,0.05,-11.86,-8.87,-8.34,-3.74,-15.17]
x_ticks = [-10,-5,0,5,10]
y_ticks = [-10,0,10]
tick_text = {-10:"\u221210",-5:"\u22125",0:"0",5:"5",10:"10"}

def expand(table):
    xs, ys, clusters, samples = [], [], [], []
    for cid, rows in table.items():
        for y, text in rows.items():
            for tok in text.split():
                xs.append(float(tok[:-1])); ys.append(y); clusters.append(cid); samples.append("abcde".index(tok[-1]))
    return dict(x=xs, y=ys, cluster=clusters, sample=samples)

core, fine = expand(CORE), expand(FINE)

def panel(width, border_left, border_right, title, colors, key, core_size):
    p = figure(width=width, height=1592, frame_width=1213, frame_height=1421, min_border_left=border_left, min_border_right=border_right,
               min_border_top=75, min_border_bottom=96, x_range=Range1d(-14.2,10.42), y_range=Range1d(-16.75,11.37),
               output_backend="svg", toolbar_location=None, title=title, background_fill_color="white", outline_line_color=None)
    p.grid.visible = False
    p.title.align = "center"; p.title.text_font = "Liberation Sans"; p.title.text_font_size = "36px"; p.title.text_font_style = "bold"
    p.title.text_color = "black"; p.title.standoff = 20
    for ax, lab, ticks in ((p.xaxis[0],"harmony_1",x_ticks),(p.yaxis[0],"harmony_2",y_ticks)):
        ax.axis_label = lab; ax.ticker = FixedTicker(ticks=ticks)
        ax.major_label_overrides = {t:tick_text[t] for t in ticks}
        ax.axis_label_text_font = "Liberation Sans"; ax.axis_label_text_font_size = "29px"; ax.axis_label_text_font_style = "normal"
        ax.axis_label_text_color = "black"
        ax.major_label_text_font = "Liberation Sans"; ax.major_label_text_font_size = "25px"; ax.major_label_text_color = "black"
        ax.axis_line_width = 2.6; ax.axis_line_color = "black"; ax.major_tick_line_width = 2.6; ax.major_tick_line_color = "black"
        ax.major_tick_out = 7; ax.major_tick_in = 0; ax.minor_tick_line_color = None
        ax.major_label_standoff = 5; ax.axis_label_standoff = 8
    for d, size in ((core, core_size), (fine, 8)):
        data = dict(d); data["color"] = [colors[i] for i in d[key]]
        p.scatter("x","y",source=ColumnDataSource(data),size=size,color="color",line_color=None)
    return p

def legend_panel(width, names, colors, columns, dot_x, text_x, top_y, pitch):
    xs, ts, ys, cs = [], [], [], []
    p = figure(width=width, height=1592, x_range=Range1d(0,width), y_range=Range1d(1592,0), min_border=0, x_axis_location=None, y_axis_location=None,
               output_backend="svg", toolbar_location=None, outline_line_color=None)
    p.grid.visible = False
    for i, (n, c) in enumerate(zip(names, colors)):
        col = 0 if i < columns[0] else 1
        rw = i if i < columns[0] else i - columns[0]
        xs.append(dot_x[col]); ts.append(text_x[col]); ys.append(top_y + pitch*rw); cs.append(c)
    p.scatter(xs, ys, size=17, color=cs, line_color=None)
    p.text(ts, ys, text=list(names), text_font=value("Liberation Sans"), text_font_size="26.5px", text_align="left", text_baseline="middle", text_color="black")
    return p

left = panel(1345, 124, 8, "orig.ident", sample_colors, "sample", 16)
left_legend = legend_panel(295, sample_names, sample_colors, (5,0), (41,), (73,), 718, 34.3)
right = panel(1335, 114, 8, "", cluster_colors, "cluster", 18)
right_legend = legend_panel(217, cluster_names, cluster_colors, (12,11), (40,135), (73,168), 599, 34.1)

right.text(x=label_x, y=label_y, text=cluster_names, text_font=value("Liberation Sans"), text_font_size="24px",
           text_align="center", text_baseline="middle", text_color="black")

open("out.html","w").write(file_html(row(left,left_legend,right,right_legend,spacing=0), INLINE))
